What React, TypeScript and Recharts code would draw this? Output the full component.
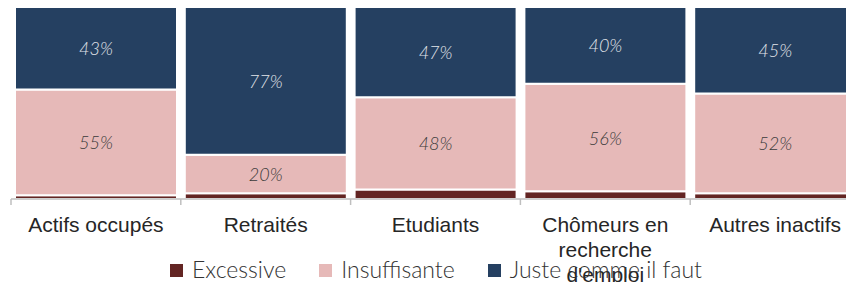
import { BarChart, Bar, XAxis, YAxis, LabelList, Text } from "recharts"

const categories = ["Actifs occupés", "Retraités", "Etudiants", "Chômeurs en recherche d'emploi", "Autres inactifs"]
const excessive = [2, 3, 5, 4, 3]
const insuffisante = [55, 20, 48, 56, 52]
const juste = [43, 77, 47, 40, 45]

const seriesNames = ["Excessive", "Insuffisante", "Juste comme il faut"]
const seriesColors = ["#632523", "#e6b9b8", "#254061"]

const data = categories.map((name, i) => ({
  name,
  excessive: excessive[i],
  insuffisante: insuffisante[i],
  juste: juste[i],
}))

const AXIS_COLOR = "#bfbfbf"
const tickFont = { fontSize: "21px", fontFamily: "'Liberation Sans', Arial, sans-serif" }

// category label + tick mark on the left border of each band
const CategoryTick = (props: any) => {
  const { x, y, payload, index } = props
  const half = payload?.offset ?? 84.85
  return (
    <g>
      <line x1={x - half} x2={x - half} y1={y} y2={y + 6} stroke={AXIS_COLOR} strokeWidth={1.5} />
      {index === categories.length - 1 && (
        <line x1={x + half} x2={x + half} y1={y} y2={y + 6} stroke={AXIS_COLOR} strokeWidth={1.5} />
      )}
      <Text
        x={x}
        y={y + 18}
        width={145}
        textAnchor="middle"
        verticalAnchor="start"
        lineHeight={25}
        style={tickFont}
        fill="#262626"
      >
        {payload.value}
      </Text>
    </g>
  )
}

const pctLabel = (color: string) => (props: any) => {
  const { x, y, width, height, value } = props
  return (
    <text
      x={x + width / 2}
      y={y + height / 2}
      textAnchor="middle"
      dominantBaseline="central"
      fontSize={18}
      fontStyle="italic"
      fontWeight={300}
      fontFamily="Lato, 'Open Sans', sans-serif"
      fill={color}
    >
      {`${value}%`}
    </text>
  )
}

export default function App() {
  return (
    <div style={{ position: "absolute", left: 0, top: 0, width: 846, height: 282, overflow: "hidden", background: "#fff" }}>
      <BarChart
        width={862}
        height={282}
        data={data}
        margin={{ top: 7, right: 2, left: 11, bottom: 13 }}
        barCategoryGap={4}
      >
        <XAxis
          dataKey="name"
          interval={0}
          height={70}
          tickLine={false}
          tickSize={0}
          tickMargin={0}
          axisLine={{ stroke: AXIS_COLOR, strokeWidth: 1.5 }}
          tick={<CategoryTick />}
        />
        <YAxis hide domain={[0, 100]} />
        <Bar dataKey="excessive" stackId="a" fill={seriesColors[0]} stroke="#fff" strokeWidth={2} isAnimationActive={false} />
        <Bar dataKey="insuffisante" stackId="a" fill={seriesColors[1]} stroke="#fff" strokeWidth={2} isAnimationActive={false}>
          <LabelList dataKey="insuffisante" content={pctLabel("#3a3a3a")} />
        </Bar>
        <Bar dataKey="juste" stackId="a" fill={seriesColors[2]} stroke="#fff" strokeWidth={2} isAnimationActive={false}>
          <LabelList dataKey="juste" content={pctLabel("#e2e5ea")} />
        </Bar>
      </BarChart>
      <div
        style={{
          position: "absolute",
          left: 3,
          top: 256,
          width: 866,
          height: 26,
          display: "flex",
          justifyContent: "center",
          alignItems: "center",
          fontFamily: "Lato, 'Open Sans', sans-serif",
          fontWeight: 300,
          fontSize: 23,
          lineHeight: "26px",
          color: "#333",
        }}
      >
        {seriesNames.map((s, i) => (
          <div key={s} style={{ display: "flex", alignItems: "center", marginRight: i < seriesNames.length - 1 ? 33 : 0 }}>
            <span style={{ width: 13, height: 13, background: seriesColors[i], marginRight: 9, marginTop: 2 }} />
            <span>{s}</span>
          </div>
        ))}
      </div>
    </div>
  )
}
